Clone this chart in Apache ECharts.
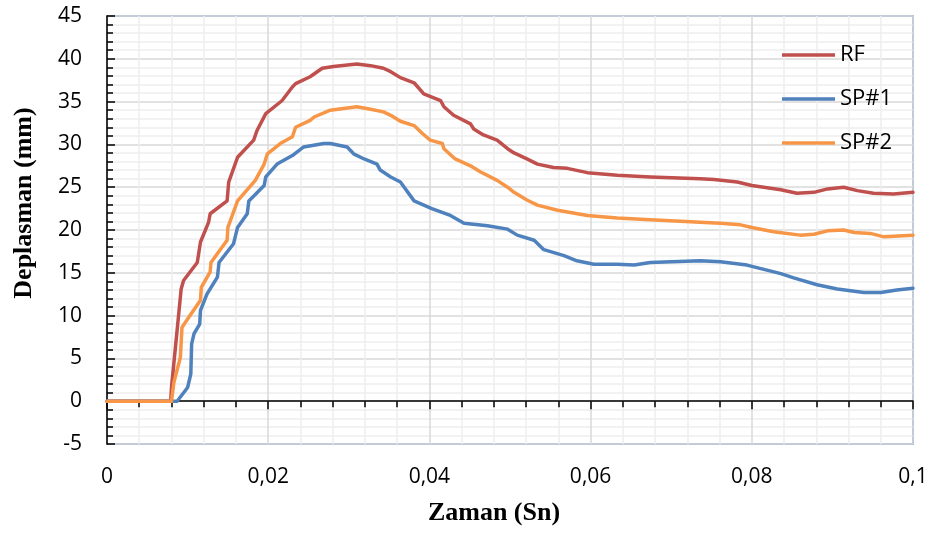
<!DOCTYPE html>
<html>
<head>
<meta charset="utf-8">
<script src="https://cdn.jsdelivr.net/npm/echarts@6/dist/echarts.min.js"></script>
<style>
html,body{margin:0;padding:0;background:#fff;}
#chart{width:936px;height:534px;}
</style>
</head>
<body>
<div id="chart"></div>
<script>
// Time (Sn) / displacement (mm) pairs
var rfTime = [0,0.0079,0.0080,0.0092,0.0095,0.0112,0.0116,0.0126,0.0128,0.0149,0.0151,0.0162,0.0182,0.0186,0.0197,0.0217,0.0230,0.0234,0.0252,0.0267,0.0281,0.0310,0.0327,0.0343,0.0352,0.0364,0.0381,0.0393,0.0414,0.0418,0.0430,0.0451,0.0455,0.0467,0.0484,0.0497,0.0505,0.0521,0.0534,0.0554,0.0571,0.0596,0.0633,0.0674,0.0736,0.0753,0.0782,0.0800,0.0836,0.0856,0.0877,0.0894,0.0914,0.0931,0.0951,0.0976,0.1];
var rfValue = [0,0,1.6,13.1,14.1,16.2,18.6,20.9,21.9,23.4,25.6,28.5,30.5,31.6,33.6,35.1,36.7,37.1,37.9,38.9,39.1,39.4,39.2,38.9,38.5,37.8,37.2,35.9,35.1,34.4,33.4,32.4,31.8,31.1,30.5,29.5,29.0,28.3,27.7,27.3,27.2,26.7,26.4,26.2,26.0,25.9,25.6,25.2,24.7,24.3,24.4,24.8,25.0,24.6,24.3,24.2,24.4];

var sp1Time = [0,0.0087,0.0100,0.0104,0.0105,0.0108,0.0115,0.0116,0.0124,0.0137,0.0139,0.0157,0.0162,0.0174,0.0176,0.0195,0.0197,0.0211,0.0230,0.0244,0.0269,0.0277,0.0298,0.0306,0.0319,0.0335,0.0339,0.0352,0.0364,0.0381,0.0403,0.0426,0.0443,0.0472,0.0497,0.0509,0.0530,0.0542,0.0567,0.0583,0.0604,0.0633,0.0654,0.0674,0.0736,0.0761,0.0794,0.0815,0.0836,0.0852,0.0881,0.0906,0.0939,0.0960,0.0980,0.1];
var sp1Value = [0,0,1.6,3.2,6.7,7.9,9.0,10.6,12.5,14.5,16.2,18.4,20.3,21.9,23.4,25.2,26.2,27.7,28.7,29.7,30.1,30.1,29.7,28.9,28.3,27.7,27.0,26.2,25.6,23.4,22.5,21.7,20.8,20.5,20.1,19.4,18.8,17.7,17.0,16.4,16.0,16.0,15.9,16.2,16.4,16.3,15.9,15.4,14.9,14.4,13.6,13.1,12.7,12.7,13.0,13.2];

var sp2Time = [0,0.0080,0.0083,0.0091,0.0093,0.0100,0.0116,0.0117,0.0128,0.0129,0.0149,0.0150,0.0162,0.0184,0.0195,0.0199,0.0215,0.0230,0.0234,0.0252,0.0257,0.0277,0.0310,0.0327,0.0343,0.0352,0.0364,0.0381,0.0391,0.0401,0.0416,0.0418,0.0432,0.0451,0.0463,0.0484,0.0497,0.0505,0.0521,0.0534,0.0559,0.0596,0.0633,0.0674,0.0736,0.0761,0.0786,0.0800,0.0827,0.0860,0.0877,0.0894,0.0914,0.0927,0.0947,0.0964,0.1];
var sp2Value = [0,0,2.2,5.1,8.6,9.6,11.8,13.3,15.1,16.2,18.8,20.3,23.4,25.8,27.7,28.9,30.1,30.9,32.0,32.8,33.2,34.0,34.4,34.1,33.8,33.4,32.7,32.2,31.3,30.5,30.1,29.5,28.3,27.5,26.8,25.8,25.0,24.4,23.5,22.9,22.3,21.7,21.4,21.2,20.9,20.8,20.6,20.3,19.8,19.4,19.5,19.9,20.0,19.7,19.6,19.2,19.4];

var seriesNames = ['RF', 'SP#1', 'SP#2'];
var seriesColors = ['#C0504D', '#4F81BD', '#F79646'];
var xTitle = 'Zaman (Sn)';
var yTitle = 'Deplasman (mm)';

function pairs(t, v) { return t.map(function (x, i) { return [x, v[i]]; }); }

var chart = echarts.init(document.getElementById('chart'), null, {renderer: 'canvas'});
var labelFont = 'Open Sans';
function lineSeries(i, t, v, z) {
  return {name: seriesNames[i], type: 'line', data: pairs(t, v), showSymbol: false, symbol: 'none', smooth: false,
    lineStyle: {color: seriesColors[i], width: 3.5, join: 'round', cap: 'round'}, itemStyle: {color: seriesColors[i]}, z: z};
}
var option = {
  animation: false,
  backgroundColor: '#ffffff',
  grid: {left: 107, right: 23, top: 16, bottom: 90, show: true, borderColor: '#5585c4', borderWidth: 1.5, backgroundColor: 'transparent'},
  legend: {
    orient: 'vertical', left: 777, top: 39, itemWidth: 53, itemHeight: 3.5, itemGap: 22, icon: 'rect',
    textStyle: {fontFamily: labelFont, fontSize: 22, color: '#000', padding: [0, 0, 0, 0]},
    data: seriesNames
  },
  xAxis: [{
    type: 'value', min: 0, max: 0.1, interval: 0.02, position: 'bottom',
    axisLine: {show: false, onZero: false}, axisTick: {show: false},
    axisLabel: {fontFamily: labelFont, fontSize: 21, color: '#000', margin: 23,
      formatter: function (v) { return String(Math.round(v * 100) / 100).replace('.', ','); }},
    splitLine: {show: true, lineStyle: {color: '#d9d9d9', width: 1.5}},
    minorTick: {show: false, splitNumber: 5},
    minorSplitLine: {show: true, lineStyle: {color: '#eeeeee', width: 1.5}}
  }, {
    type: 'value', min: 0, max: 0.1, interval: 0.02, position: 'top',
    axisLine: {show: true, onZero: true, lineStyle: {color: '#000', width: 1.5}},
    axisTick: {show: true, inside: true, length: 8, lineStyle: {color: '#000', width: 1.5}},
    minorTick: {show: true, splitNumber: 5, length: 6, lineStyle: {color: '#000', width: 1.5}},
    axisLabel: {show: false}, splitLine: {show: false}
  }],
  yAxis: {
    type: 'value', min: -5, max: 45, interval: 5,
    axisLine: {show: true, onZero: false, lineStyle: {color: '#000', width: 1.5}},
    axisTick: {show: true, inside: true, length: 8, lineStyle: {color: '#000', width: 1.5}},
    minorTick: {show: true, splitNumber: 5, length: 6, lineStyle: {color: '#000', width: 1.5}},
    axisLabel: {fontFamily: labelFont, fontSize: 21, color: '#000', margin: 25},
    splitLine: {show: true, lineStyle: {color: '#d9d9d9', width: 1.5}},
    minorSplitLine: {show: true, lineStyle: {color: '#eeeeee', width: 1.5}}
  },
  graphic: [
    {type: 'text', x: 494, y: 513, style: {text: xTitle, fontFamily: 'Liberation Serif', fontWeight: 'bold', fontSize: 26, fill: '#000', align: 'center', verticalAlign: 'middle'}},
    {type: 'text', x: 24, y: 203, rotation: Math.PI / 2, style: {text: yTitle, fontFamily: 'Liberation Serif', fontWeight: 'bold', fontSize: 26, fill: '#000', align: 'center', verticalAlign: 'middle'}}
  ],
  series: [
    lineSeries(0, rfTime, rfValue, 3),
    lineSeries(1, sp1Time, sp1Value, 3),
    lineSeries(2, sp2Time, sp2Value, 4)
  ]
};
chart.setOption(option);
</script>
</body>
</html>
